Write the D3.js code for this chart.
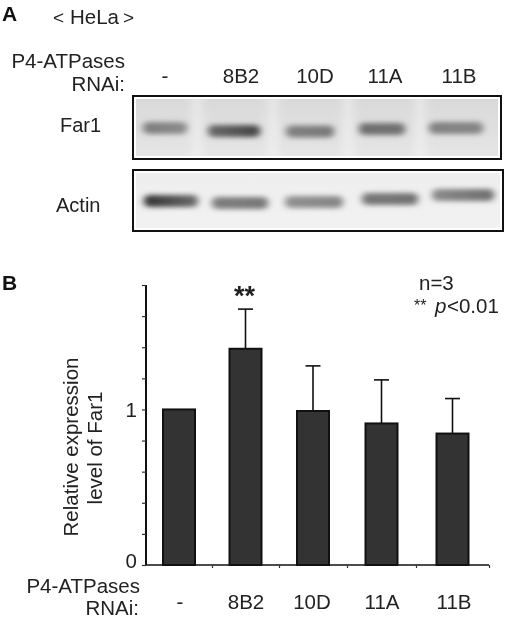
<!DOCTYPE html>
<html>
<head>
<meta charset="utf-8">
<script src="https://cdn.jsdelivr.net/npm/d3@7"></script>
<style>
  html, body { margin: 0; background: #fff; }
  #fig { filter: blur(0.35px); }
  text { font-family: "Liberation Sans", Arial, sans-serif; fill: #222; }
</style>
</head>
<body>
<svg id="fig" width="512" height="618"></svg>
<script>
// values
const categories = ["-", "8B2", "10D", "11A", "11B"];
const means = [1.0, 1.39, 0.99, 0.91, 0.845];
const errorTops = [null, 1.645, 1.28, 1.19, 1.07];
const yTicks = [0, 0.2, 0.4, 0.6, 0.8, 1, 1.2, 1.4, 1.6, 1.8];
const yLabels = [0, 1];

// band darkness of the blots, left and right end of each band (0-1)
const far1Left = [0.52, 0.62, 0.5, 0.6, 0.5];
const far1Right = [0.45, 0.8, 0.55, 0.58, 0.48];
const actinLeft = [0.9, 0.52, 0.42, 0.55, 0.45];
const actinRight = [0.6, 0.55, 0.48, 0.58, 0.6];

const svg = d3.select("#fig");
const defs = svg.append("defs");

defs.append("filter").attr("id", "soft")
  .attr("x", "-30%").attr("y", "-150%").attr("width", "160%").attr("height", "400%")
  .append("feGaussianBlur").attr("stdDeviation", "3.5 2.5");
defs.append("filter").attr("id", "wide")
  .attr("x", "-200%").attr("y", "-20%").attr("width", "500%").attr("height", "140%")
  .append("feGaussianBlur").attr("stdDeviation", 5);

const label = (x, y, str, size = 20.5, anchor = "start") =>
  svg.append("text").attr("x", x).attr("y", y).attr("font-size", size)
    .attr("text-anchor", anchor).text(str);

// ---------- panel A ----------
label(2, 21, "A", 21).attr("font-weight", "bold").style("fill", "#111");
label(53, 24, "<", 19);
label(70, 24, "HeLa", 20.5);
label(123, 24, ">", 19);
label(125, 68, "P4-ATPases", 20.5, "end");
label(125, 91, "RNAi:", 20.5, "end");

// lane positions are uneven on the gel, so these scales are piecewise
const laneLabel = d3.scaleLinear().domain([0, 1, 2, 3, 4]).range([165, 241, 315, 385, 459]);
categories.forEach((c, i) => label(laneLabel(i), 83, c, 20.5, "middle"));

function blot(name, box, lanes, widths, bandY, left, right, bg, gaps) {
  const g = svg.append("g");
  const grad = defs.append("linearGradient").attr("id", name + "-bg")
    .attr("x1", 0).attr("x2", 0).attr("y1", 0).attr("y2", 1);
  grad.append("stop").attr("offset", "0%").attr("stop-color", bg[0]);
  grad.append("stop").attr("offset", "100%").attr("stop-color", bg[1]);

  const clipId = name + "-clip";
  defs.append("clipPath").attr("id", clipId).append("rect")
    .attr("x", box.x + 3).attr("y", box.y + 3)
    .attr("width", box.w - 6).attr("height", box.h - 6);

  g.append("rect").attr("x", box.x).attr("y", box.y).attr("width", box.w).attr("height", box.h)
    .attr("fill", "#fff");
  const inner = g.append("g").attr("clip-path", `url(#${clipId})`);
  inner.append("rect").attr("x", box.x).attr("y", box.y).attr("width", box.w).attr("height", box.h)
    .attr("fill", `url(#${name}-bg)`);

  gaps.forEach(x => {
    inner.append("rect").attr("x", x - 5).attr("y", box.y - 10).attr("width", 10).attr("height", box.h + 20)
      .attr("fill", "#fff").attr("opacity", 0.4).attr("filter", "url(#wide)");
  });

  const shade = d3.scaleLinear().domain([0, 1]).range(["#e6e6e6", "#1c1c1c"]);
  categories.forEach((c, i) => {
    const id = `${name}-band${i}`;
    const lg = defs.append("linearGradient").attr("id", id);
    lg.append("stop").attr("offset", "0%").attr("stop-color", shade(left[i]));
    lg.append("stop").attr("offset", "100%").attr("stop-color", shade(right[i]));
    const w = widths(i);
    inner.append("rect")
      .attr("x", lanes(i) - w / 2).attr("y", bandY(i) - 6)
      .attr("width", w).attr("height", 12).attr("rx", 5)
      .attr("fill", `url(#${id})`).attr("filter", "url(#soft)");
  });

  g.append("rect").attr("x", box.x).attr("y", box.y).attr("width", box.w).attr("height", box.h)
    .attr("fill", "none").attr("stroke", "#111").attr("stroke-width", 2);
}

const idx = d3.range(5);
blot("far1", { x: 133, y: 96, w: 368, h: 63 },
  d3.scaleLinear().domain(idx).range([165, 234, 310, 382, 456]),
  d3.scaleOrdinal().domain(idx).range([44, 52, 48, 46, 54]),
  d3.scaleOrdinal().domain(idx).range([128, 131, 131.5, 129, 128]),
  far1Left, far1Right, ["#d8d8d8", "#e6e6e6"], [197, 273, 348, 420]);

blot("actin", { x: 133, y: 170, w: 370, h: 61 },
  d3.scaleLinear().domain(idx).range([171, 240, 314, 390, 463]),
  d3.scaleOrdinal().domain(idx).range([54, 56, 58, 56, 62]),
  d3.scaleOrdinal().domain(idx).range([201, 203, 202, 199, 195]),
  actinLeft, actinRight, ["#eeeeee", "#f2f2f2"], []);

label(60, 132, "Far1", 20);
label(56, 212, "Actin", 20);

// ---------- panel B ----------
label(2, 290, "B", 21).attr("font-weight", "bold").style("fill", "#111");

const y = d3.scaleLinear().domain([0, 1.8]).range([565, 285]);
// the x axis ticks are not evenly spaced in the figure
const slot = d3.scaleLinear().domain([0, 1, 2, 3, 4, 5]).range([146, 212, 279, 347, 416, 489]);

const yAxis = d3.axisLeft(y).tickValues(yTicks).tickSize(4)
  .tickFormat(d => "");
const xAxis = d3.axisBottom(slot).tickValues([1, 2, 3, 4, 5]).tickSize(3)
  .tickFormat(d => "");

svg.append("g").attr("transform", "translate(146,0)").call(yAxis)
  .call(g => g.select(".domain").attr("stroke", "#111").attr("stroke-width", 2).attr("d", `M0,${y(1.8)}V${y(0)}`))
  .call(g => g.selectAll(".tick line").attr("stroke", "#333").attr("stroke-width", 1.2));
svg.append("g").attr("transform", `translate(0,${y(0)})`).call(xAxis)
  .call(g => g.select(".domain").attr("stroke", "#111").attr("stroke-width", 1.6).attr("d", `M${slot(0)},0H${slot(5)}`))
  .call(g => g.selectAll(".tick line").attr("stroke", "#333").attr("stroke-width", 1.2));

yLabels.forEach(v => label(137, y(v) + (v === 0 ? 3 : 8), v, 20.5, "end"));

const barW = 32;
const center = i => slot(i + 0.5);

svg.append("g").selectAll("g").data(means.map((m, i) => ({ i, m, top: errorTops[i] })).filter(d => d.top !== null))
  .join("g")
  .each(function (d) {
    const g = d3.select(this).attr("stroke", "#111").attr("stroke-width", 1.6);
    g.append("line").attr("x1", center(d.i)).attr("x2", center(d.i)).attr("y1", y(d.top)).attr("y2", y(d.m));
    g.append("line").attr("x1", center(d.i) - 7.5).attr("x2", center(d.i) + 7.5).attr("y1", y(d.top)).attr("y2", y(d.top));
  });

svg.append("g").selectAll("rect").data(means).join("rect")
  .attr("x", (d, i) => center(i) - barW / 2)
  .attr("y", d => y(d))
  .attr("width", barW)
  .attr("height", d => y(0) - y(d))
  .attr("fill", "#333")
  .attr("stroke", "#111")
  .attr("stroke-width", 2);

label(center(1) - 1, 305, "**", 27, "middle").attr("font-weight", "bold");
label(419, 290, "n=3", 20.5);
label(414, 311, "**", 16);
label(435, 313, "p", 20.5).attr("font-style", "italic");
label(447, 313, "<0.01", 20.5);

svg.append("text").attr("transform", "translate(78,447) rotate(-90)")
  .attr("text-anchor", "middle").attr("font-size", 20.5).text("Relative expression");
svg.append("text").attr("transform", "translate(102,448) rotate(-90)")
  .attr("text-anchor", "middle").attr("font-size", 20.5).text("level of Far1");

label(140, 593, "P4-ATPases", 20.5, "end");
label(139, 615, "RNAi:", 20.5, "end");
const xLabelPos = d3.scaleLinear().domain([0, 1, 2, 3, 4]).range([180, 246, 312, 382, 454]);
categories.forEach((c, i) => label(xLabelPos(i), 609, c, 20.5, "middle"));
</script>
</body>
</html>
